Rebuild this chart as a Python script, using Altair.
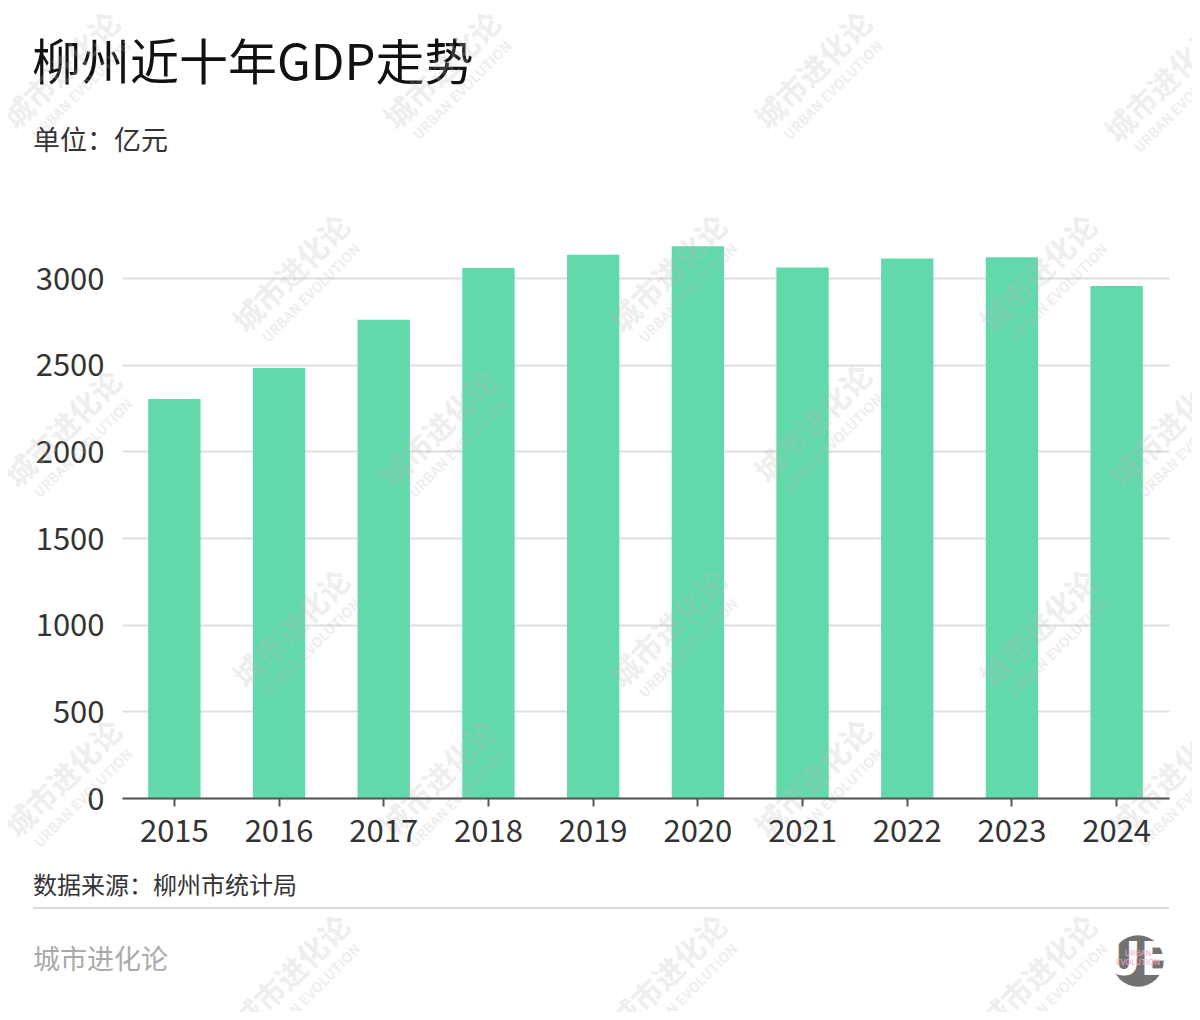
import altair as alt
import pandas as pd

# ---- data ----
years = ["2015", "2016", "2017", "2018", "2019", "2020", "2021", "2022", "2023", "2024"]
gdp = [2302, 2481, 2759, 3058, 3134, 3183, 3061, 3113, 3119, 2954]
y_ticks = [0, 500, 1000, 1500, 2000, 2500, 3000]

title_text = ["柳州近十年GDP走势"]
unit_text = ["单位：亿元"]
source_text = ["数据来源：柳州市统计局"]
brand_text = ["城市进化论"]

# watermark centres (page pixels), decorative
wm_x = [63, 444, 815, 1165, 293, 670, 1040, 65, 440, 815, 1170, 293, 670, 1040, 65, 440, 815, 1170, 293, 670, 1040]
wm_y = [72, 72, 72, 85, 275, 275, 275, 430, 430, 425, 430, 630, 630, 630, 780, 780, 780, 780, 975, 975, 975]

FONT = "Noto Sans CJK SC"
W, H = 1047, 598
OX, OY = 122, 200  # plot origin on the page

df = pd.DataFrame({"year": years, "gdp": gdp})

bars = alt.Chart(df).mark_bar(color="#62D9AB").encode(
    x=alt.X(
        "year:N",
        sort=years,
        scale=alt.Scale(paddingInner=0.5, paddingOuter=0.25),
        axis=alt.Axis(
            title=None, labelAngle=0, labelFont=FONT, labelFontSize=31,
            labelColor="#333333", labelPadding=11, tickSize=8, tickColor="#555555",
            tickWidth=2, domainColor="#555555", domainWidth=2, zindex=1,
        ),
    ),
    y=alt.Y(
        "gdp:Q",
        scale=alt.Scale(domain=[0, 3450], nice=False),
        axis=alt.Axis(
            title=None, values=y_ticks, format="d", grid=True, gridColor="#dedede",
            gridWidth=2, domain=False, ticks=False, labelPadding=18, labelFont=FONT,
            labelFontSize=31, labelColor="#333333", labelOffset=2,
        ),
    ),
)


def text_layer(lst, x, y, size, color, weight="normal", align="left"):
    return alt.Chart(pd.DataFrame({"t": lst})).mark_text(
        font=FONT, fontSize=size, color=color, fontWeight=weight,
        align=align, baseline="middle",
    ).encode(text="t:N", x=alt.value(x), y=alt.value(y))


title = text_layer(title_text, 32 - OX, 65 - OY, 49, "#111111")
unit = text_layer(unit_text, 33 - OX, 142 - OY, 27, "#333333")
source = text_layer(source_text, 33 - OX, 887 - OY, 24, "#333333")
brand = text_layer(brand_text, 33 - OX, 961 - OY, 27, "#aaaaaa")

divider = alt.Chart(pd.DataFrame({"a": [0]})).mark_rule(color="#dddddd", strokeWidth=2).encode(
    x=alt.value(33 - OX), x2=alt.value(1169 - OX), y=alt.value(908 - OY)
)

# logo
logo_circle = alt.Chart(pd.DataFrame({"a": [0]})).mark_point(
    filled=True, shape="circle", size=2640, color="#727272", opacity=1
).encode(x=alt.value(1138 - OX), y=alt.value(961 - OY))
logo_ue = alt.Chart(pd.DataFrame({"t": ["UE"]})).mark_text(
    font="DejaVu Sans Condensed", fontSize=46, fontWeight="bold", color="#ffffff",
    align="center", baseline="middle",
).encode(text="t:N", x=alt.value(1138 - OX), y=alt.value(961 - OY))
logo_t1 = alt.Chart(pd.DataFrame({"t": ["URBAN"]})).mark_text(
    font=FONT, fontSize=8, color="#f4a6c8", align="center", baseline="middle"
).encode(text="t:N", x=alt.value(1138 - OX), y=alt.value(954 - OY))
logo_t2 = alt.Chart(pd.DataFrame({"t": ["EVOLUTION"]})).mark_text(
    font=FONT, fontSize=8, color="#f4a6c8", align="center", baseline="middle"
).encode(text="t:N", x=alt.value(1138 - OX), y=alt.value(963 - OY))

# watermarks
wm = pd.DataFrame({
    "wx": [v - OX for v in wm_x],
    "wy": [v - OY for v in wm_y],
    "ex": [v - OX + 19 for v in wm_x],
    "ey": [v - OY + 19 for v in wm_y],
    "cn": ["城市进化论"] * len(wm_x),
    "en": ["URBAN EVOLUTION"] * len(wm_x),
})
wm_cn = alt.Chart(wm).mark_text(
    font=FONT, fontSize=30, fontWeight="bold", color="#bbbbbb", opacity=0.24,
    angle=315, align="center", baseline="middle",
).encode(
    text="cn:N",
    x=alt.X("wx:Q", scale=None, axis=None),
    y=alt.Y("wy:Q", scale=None, axis=None),
)
wm_en = alt.Chart(wm).mark_text(
    font=FONT, fontSize=14, fontWeight="bold", color="#bbbbbb", opacity=0.24,
    angle=315, align="center", baseline="middle",
).encode(
    text="en:N",
    x=alt.X("ex:Q", scale=None, axis=None),
    y=alt.Y("ey:Q", scale=None, axis=None),
)

chart = alt.layer(
    bars, title, unit, source, brand, divider,
    logo_circle, logo_ue, logo_t1, logo_t2, wm_cn, wm_en,
).properties(
    width=W, height=H,
    autosize=alt.AutoSizeParams(type="none"),
    padding={"left": OX - 8, "top": OY - 8, "right": 23, "bottom": 214},
    background="#ffffff",
).configure_view(stroke=None)

chart.save("out.html", embed_options={"renderer": "svg", "actions": False})
